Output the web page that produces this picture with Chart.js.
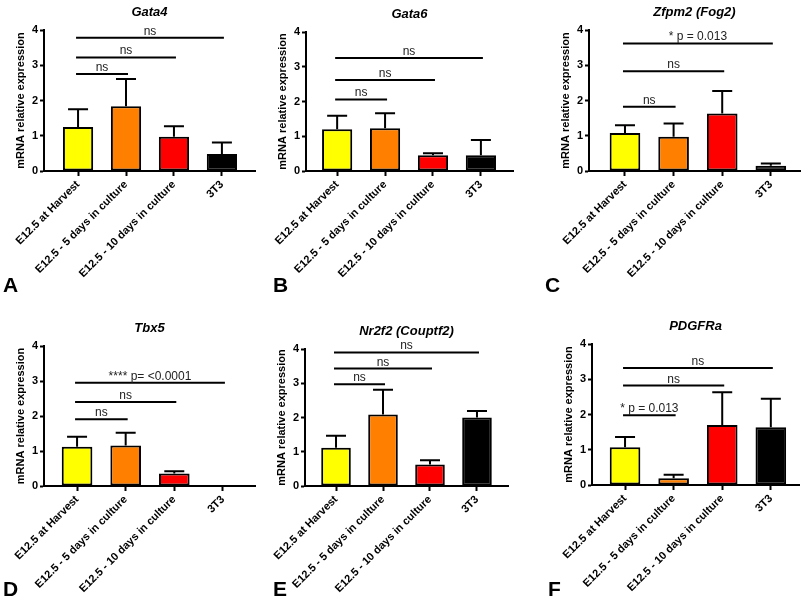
<!DOCTYPE html>
<html>
<head>
<meta charset="utf-8">
<script src="https://cdn.jsdelivr.net/npm/chart.js@4"></script>
<style>
  html, body { margin: 0; padding: 0; background: #fff; }
  body { width: 810px; height: 601px; position: relative; overflow: hidden; }
  canvas { position: absolute; }
</style>
</head>
<body>
<script>
const FONT = '"Liberation Sans", Arial, sans-serif';

const categories = ['E12.5 at Harvest', 'E12.5 - 5 days in culture', 'E12.5 - 10 days in culture', '3T3'];
const barColors = ['#FFFF00', '#FF8000', '#FF0000', '#000000'];
const yTicks = [0, 1, 2, 3, 4];

// bar means and upper error (SEM)
const gata4Mean = [1.25, 1.84, 0.97, 0.48];
const gata4Err  = [0.50, 0.77, 0.30, 0.33];
const gata6Mean = [1.20, 1.23, 0.45, 0.45];
const gata6Err  = [0.39, 0.43, 0.06, 0.44];
const zfpm2Mean = [1.08, 0.97, 1.63, 0.15];
const zfpm2Err  = [0.22, 0.38, 0.64, 0.06];
const tbx5Mean  = [1.12, 1.16, 0.36, 0];
const tbx5Err   = [0.29, 0.36, 0.06, 0];
const nr2f2Mean = [1.12, 2.09, 0.63, 2.00];
const nr2f2Err  = [0.35, 0.72, 0.12, 0.19];
const pdgfraMean = [1.07, 0.19, 1.70, 1.64];
const pdgfraErr  = [0.29, 0.10, 0.93, 0.81];

// significance bars: from first group to group index, at height, with label
const sigTo = [1, 2, 3];
const gata4SigY = [2.75, 3.22, 3.78];
const gata4SigText = ['ns', 'ns', 'ns'];
const gata6SigY = [2.06, 2.62, 3.25];
const gata6SigText = ['ns', 'ns', 'ns'];
const zfpm2SigY = [1.82, 2.83, 3.62];
const zfpm2SigText = ['ns', 'ns', '* p = 0.013'];
const tbx5SigY = [1.91, 2.40, 2.95];
const tbx5SigText = ['ns', 'ns', '**** p= <0.0001'];
const nr2f2SigY = [2.97, 3.43, 3.90];
const nr2f2SigText = ['ns', 'ns', 'ns'];
const pdgfraSigY = [1.98, 2.82, 3.32];
const pdgfraSigText = ['* p = 0.013', 'ns', 'ns'];

const panels = [
  { title: 'Gata4', letter: 'A', mean: gata4Mean, err: gata4Err, sigY: gata4SigY, sigText: gata4SigText,
    cx: 0, cy: 0, w: 270, h: 300, right: 255, top: 30, bottom: 171, xMin: -0.71, xMax: 3.69, lx: 3, ly: 292 },
  { title: 'Gata6', letter: 'B', mean: gata6Mean, err: gata6Err, sigY: gata6SigY, sigText: gata6SigText,
    cx: 262, cy: 0, w: 270, h: 300, right: 513, top: 32, bottom: 171, xMin: -0.65, xMax: 3.67, lx: 273, ly: 292 },
  { title: 'Zfpm2 (Fog2)', letter: 'C', mean: zfpm2Mean, err: zfpm2Err, sigY: zfpm2SigY, sigText: zfpm2SigText,
    cx: 545, cy: 0, w: 265, h: 300, right: 800, top: 30, bottom: 171, xMin: -0.74, xMax: 3.60, lx: 545, ly: 292 },
  { title: 'Tbx5', letter: 'D', mean: tbx5Mean, err: tbx5Err, sigY: tbx5SigY, sigText: tbx5SigText,
    cx: 0, cy: 300, w: 270, h: 301, right: 255, top: 346, bottom: 486, xMin: -0.68, xMax: 3.66, lx: 3, ly: 596 },
  { title: 'Nr2f2 (Couptf2)', letter: 'E', mean: nr2f2Mean, err: nr2f2Err, sigY: nr2f2SigY, sigText: nr2f2SigText,
    cx: 261, cy: 300, w: 270, h: 301, right: 508, top: 349, bottom: 486, xMin: -0.66, xMax: 3.66, lx: 273, ly: 596 },
  { title: 'PDGFRa', letter: 'F', mean: pdgfraMean, err: pdgfraErr, sigY: pdgfraSigY, sigText: pdgfraSigText,
    cx: 548, cy: 300, w: 262, h: 301, right: 799, top: 344, bottom: 485, xMin: -0.68, xMax: 3.58, lx: 548, ly: 596 },
];

function extras(p) {
  return {
    id: 'extras',
    afterDatasetsDraw(chart) {
      const { ctx, chartArea, scales: { x, y } } = chart;
      ctx.save();
      ctx.strokeStyle = '#000';
      ctx.lineWidth = 2;
      // error bars (upper only)
      p.mean.forEach((m, i) => {
        if (!p.err[i]) return;
        const px = x.getPixelForValue(i);
        const y0 = y.getPixelForValue(m);
        const y1 = y.getPixelForValue(m + p.err[i]);
        ctx.beginPath();
        ctx.moveTo(px, y0); ctx.lineTo(px, y1);
        ctx.moveTo(px - 10, y1); ctx.lineTo(px + 10, y1);
        ctx.stroke();
      });
      // significance lines
      ctx.font = '12px ' + FONT;
      ctx.fillStyle = '#222';
      ctx.textAlign = 'center';
      ctx.textBaseline = 'alphabetic';
      sigTo.forEach((to, k) => {
        const x0 = x.getPixelForValue(0);
        const x1 = x.getPixelForValue(to);
        const py = y.getPixelForValue(p.sigY[k]);
        ctx.beginPath();
        ctx.moveTo(x0 - 2, py); ctx.lineTo(x1 + 2, py);
        ctx.stroke();
        ctx.fillText(p.sigText[k], (x0 + x1) / 2, py - 3);
      });
      // title and panel letter
      ctx.fillStyle = '#000';
      ctx.font = 'italic bold 13px ' + FONT;
      ctx.textBaseline = 'middle';
      ctx.fillText(p.title, (chartArea.left + chartArea.right) / 2, chartArea.top - 18);
      ctx.font = 'bold 21px ' + FONT;
      ctx.textAlign = 'left';
      ctx.textBaseline = 'alphabetic';
      ctx.fillText(p.letter, p.lx - p.cx, p.ly - p.cy);
      ctx.restore();
    }
  };
}

panels.forEach(p => {
  const cv = document.createElement('canvas');
  cv.width = p.w; cv.height = p.h;
  cv.style.left = p.cx + 'px';
  cv.style.top = p.cy + 'px';
  document.body.appendChild(cv);

  const xHeight = p.h - (p.bottom - p.cy);
  new Chart(cv, {
    type: 'bar',
    data: {
      datasets: [{
        data: p.mean.map((v, i) => ({ x: i, y: v })),
        backgroundColor: barColors,
        borderColor: '#000',
        borderWidth: 2,
        borderSkipped: false,
        barPercentage: 1,
        categoryPercentage: 0.63
      }]
    },
    options: {
      responsive: false,
      animation: false,
      events: [],
      layout: { padding: { left: 0, top: p.top - p.cy, right: p.cx + p.w - p.right, bottom: 0 } },
      plugins: { legend: { display: false }, tooltip: { enabled: false } },
      scales: {
        x: {
          type: 'linear',
          min: p.xMin,
          max: p.xMax,
          bounds: 'data',
          offset: false,
          border: { color: '#000', width: 2 },
          grid: { offset: false, drawOnChartArea: false, tickLength: 5, tickColor: '#000', tickWidth: 2 },
          ticks: {
            autoSkip: false,
            minRotation: 45,
            maxRotation: 45,
            padding: 2,
            color: '#000',
            font: { family: FONT, size: 11, weight: 'bold' },
            callback: v => categories[v]
          },
          afterBuildTicks(s) {
            s.ticks = categories.map((c, i) => ({ value: i }));
          },
          afterFit(s) {
            s.height = xHeight;
            s.paddingLeft = 0; s.paddingRight = 0; s.paddingTop = 0; s.paddingBottom = 0;
          }
        },
        y: {
          min: yTicks[0],
          max: yTicks[yTicks.length - 1],
          border: { color: '#000', width: 2 },
          grid: { drawOnChartArea: false, tickLength: 4, tickColor: '#000', tickWidth: 2 },
          ticks: {
            stepSize: 1,
            padding: 2,
            color: '#000',
            font: { family: FONT, size: 11, weight: 'bold' }
          },
          title: {
            display: true,
            text: 'mRNA relative expression',
            color: '#000',
            padding: { top: 14, bottom: 0 },
            font: { family: FONT, size: 11, weight: 'bold' }
          },
          afterFit(s) {
            s.width = 44;
            s.paddingLeft = 0; s.paddingRight = 0; s.paddingTop = 0; s.paddingBottom = 0;
          }
        }
      }
    },
    plugins: [extras(p)]
  });
});
</script>
</body>
</html>
